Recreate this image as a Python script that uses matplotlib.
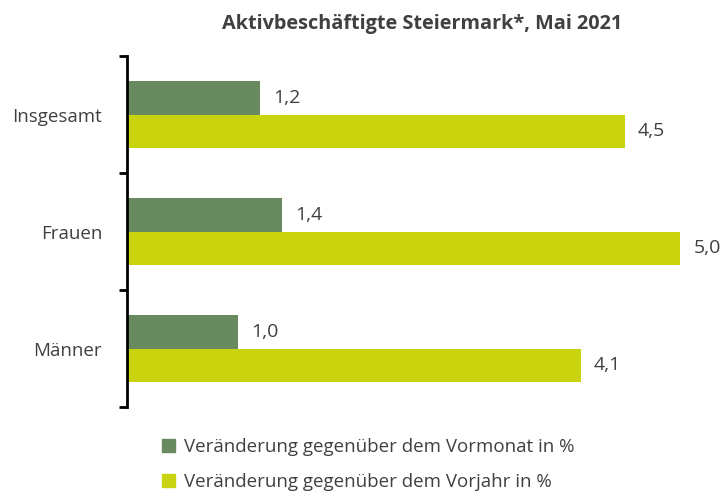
import matplotlib.pyplot as plt
from matplotlib.patches import Patch

categories = ["Insgesamt", "Frauen", "Männer"]
vormonat = [1.2, 1.4, 1.0]
vorjahr = [4.5, 5.0, 4.1]
labels = ["Veränderung gegenüber dem Vormonat in %",
          "Veränderung gegenüber dem Vorjahr in %"]

GREEN = "#688a5e"
YELLOW = "#c9d40f"
TEXT = "#404040"

plt.rcParams["font.family"] = ["Open Sans", "DejaVu Sans"]


def fmt(v):
    return f"{v:.1f}".replace(".", ",")


fig = plt.figure(figsize=(7.28, 4.97), dpi=100)
ax = fig.add_axes([0.1745, 0.181, 0.787, 0.706])

y = list(range(len(categories)))
h = 0.285
ax.barh([i - h / 2 for i in y], vormonat, height=h, color=GREEN)
ax.barh([i + h / 2 for i in y], vorjahr, height=h, color=YELLOW)

for i in y:
    ax.text(vormonat[i] + 0.12, i - h / 2, fmt(vormonat[i]),
            va="center", ha="left", fontsize=14, color=TEXT)
    ax.text(vorjahr[i] + 0.12, i + h / 2, fmt(vorjahr[i]),
            va="center", ha="left", fontsize=14, color=TEXT)

ax.set_xlim(0, 5.18)
ax.set_ylim(2.5, -0.5)
ax.set_yticks(y)
ax.set_yticklabels(categories, fontsize=13.5, color=TEXT)
ax.tick_params(axis="y", which="major", length=0, pad=18)
ax.set_yticks([-0.5, 0.5, 1.5, 2.5], minor=True)
ax.tick_params(axis="y", which="minor", length=6, width=2, color="black")
ax.set_xticks([])
for s in ["top", "right", "bottom"]:
    ax.spines[s].set_visible(False)
ax.spines["left"].set_linewidth(2)

ax.set_title("Aktivbeschäftigte Steiermark*, Mai 2021", fontsize=14.3,
             fontweight="bold", color=TEXT, x=0.515, y=1.055, loc="center")

handles = [Patch(color=GREEN), Patch(color=YELLOW)]
fig.legend(handles, labels, loc="upper left", bbox_to_anchor=(0.212, 0.133),
           frameon=False, fontsize=13.5, labelcolor=TEXT,
           handlelength=0.7, handleheight=0.7, handletextpad=0.5,
           labelspacing=0.9, borderaxespad=0)

fig.savefig("out.png", dpi=100)
